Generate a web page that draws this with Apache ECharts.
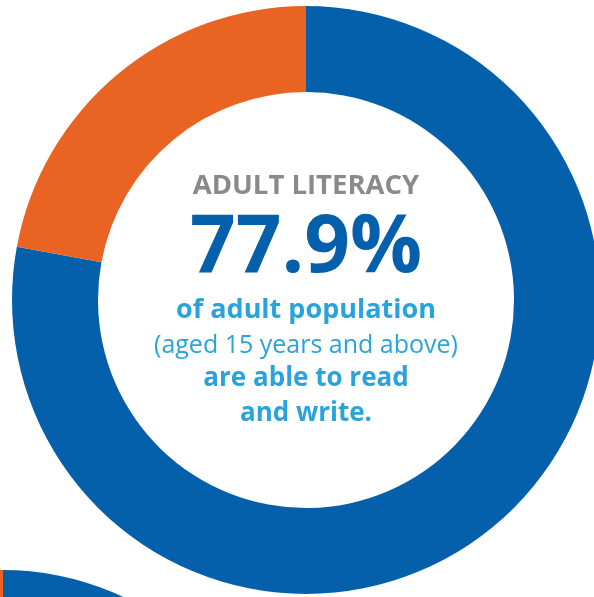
<!DOCTYPE html>
<html>
<head>
<meta charset="UTF-8">
<title>Adult literacy</title>
<script src="https://cdn.jsdelivr.net/npm/echarts@6/dist/echarts.min.js"></script>
<style>
  html, body { margin: 0; padding: 0; background: #fff; }
  #chart { width: 594px; height: 597px; }
</style>
</head>
<body>
<div id="chart"></div>
<script>
// main donut: literate vs not
var categories = ['Literate', 'Not literate'];
var literacy = [77.9, 22.1];
// partial donut of the next chart peeking in at the bottom left
var nextValues = [78, 22];

var blue = '#0560ab';
var orange = '#e96422';
var lightBlue = '#2aa3dc';

var chart = echarts.init(document.getElementById('chart'));

function ring(values, center, radius) {
  return {
    type: 'pie',
    center: center,
    radius: radius,
    startAngle: 90,
    clockwise: true,
    silent: true,
    animation: false,
    label: { show: false },
    labelLine: { show: false },
    data: categories.map(function (c, i) {
      return { name: c, value: values[i], itemStyle: { color: i === 0 ? blue : orange } };
    })
  };
}

var font = '"Open Sans", "Noto Sans", sans-serif';

function line(text, y, size, weight, color) {
  return {
    type: 'text',
    x: 306,
    y: y,
    style: {
      text: text,
      x: 0, y: 0,
      align: 'center',
      verticalAlign: 'middle',
      fontFamily: font,
      fontSize: size,
      fontWeight: weight,
      fill: color
    }
  };
}

var option = {
  backgroundColor: '#fff',
  series: [
    ring(literacy, [306, 300], [208, 294]),
    ring(nextValues, [3, 852], [200, 282])
  ],
  graphic: [
    line('ADULT LITERACY', 186, 27.5, 'bold', '#8a8a8a'),
    line('77.9%', 249, 80, 'bold', blue),
    line('of adult population', 310, 27, 'bold', lightBlue),
    line('(aged 15 years and above)', 346, 25, 'normal', lightBlue),
    line('are able to read', 379, 26, 'bold', lightBlue),
    line('and write.', 414, 26, 'bold', lightBlue)
  ]
};

chart.setOption(option);
</script>
</body>
</html>
